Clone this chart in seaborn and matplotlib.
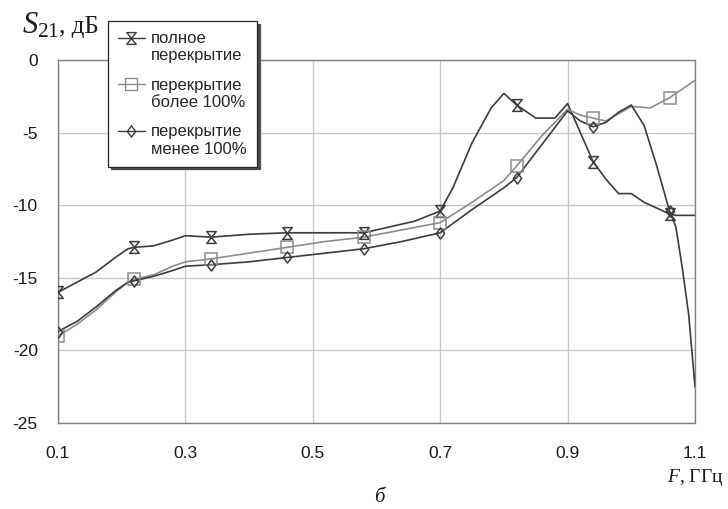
import numpy as np
import pandas as pd
import matplotlib
matplotlib.use("Agg")
import matplotlib.pyplot as plt
import seaborn as sns
from matplotlib.path import Path
from matplotlib.lines import Line2D

# ---- data ----
freq_full = [0.10, 0.13, 0.16, 0.19, 0.21, 0.22, 0.25, 0.28, 0.30, 0.34, 0.40, 0.46, 0.52,
             0.58, 0.62, 0.66, 0.70, 0.72, 0.75, 0.78, 0.80, 0.82, 0.85, 0.88, 0.90, 0.92,
             0.94, 0.96, 0.98, 1.00, 1.02, 1.06, 1.07, 1.10]
s21_full = [-16.0, -15.3, -14.6, -13.6, -13.0, -12.9, -12.8, -12.4, -12.1, -12.2, -12.0, -11.9, -11.9,
            -11.9, -11.5, -11.1, -10.4, -8.8, -5.7, -3.3, -2.3, -3.1, -4.0, -4.0, -3.0, -5.0,
            -7.0, -8.2, -9.2, -9.2, -9.8, -10.6, -10.7, -10.7]

freq_more = [0.10, 0.13, 0.16, 0.19, 0.21, 0.22, 0.25, 0.28, 0.30, 0.34, 0.40, 0.46, 0.52,
             0.58, 0.64, 0.70, 0.75, 0.80, 0.82, 0.86, 0.90, 0.92, 0.94, 0.96, 0.98, 1.00,
             1.03, 1.06, 1.10]
s21_more = [-19.0, -18.2, -17.2, -16.0, -15.3, -15.1, -14.8, -14.2, -13.9, -13.7, -13.3, -12.9, -12.5,
            -12.2, -11.7, -11.2, -9.8, -8.3, -7.3, -5.2, -3.4, -3.8, -4.0, -4.2, -3.7, -3.2,
            -3.3, -2.6, -1.4]

freq_less = [0.10, 0.13, 0.16, 0.19, 0.21, 0.22, 0.25, 0.28, 0.30, 0.34, 0.40, 0.46, 0.52,
             0.58, 0.64, 0.70, 0.75, 0.80, 0.82, 0.86, 0.90, 0.92, 0.94, 0.96, 0.98, 1.00,
             1.02, 1.04, 1.06, 1.07, 1.08, 1.09, 1.10]
s21_less = [-18.7, -18.0, -17.0, -15.9, -15.3, -15.2, -14.9, -14.5, -14.2, -14.1, -13.9, -13.6, -13.3,
            -13.0, -12.5, -11.9, -10.3, -8.8, -8.1, -5.8, -3.5, -4.2, -4.6, -4.3, -3.6, -3.1,
            -4.5, -7.3, -10.4, -11.5, -14.3, -17.5, -22.5]

marker_freqs = [0.10, 0.22, 0.34, 0.46, 0.58, 0.70, 0.82, 0.94, 1.06]
series_labels = ["полное\nперекрытие", "перекрытие\nболее 100%", "перекрытие\nменее 100%"]
xticks = [0.1, 0.3, 0.5, 0.7, 0.9, 1.1]
yticks = [0, -5, -10, -15, -20, -25]

# ---- style ----
sns.set_style("white")
plt.rcParams["font.family"] = ["Liberation Sans", "DejaVu Sans"]
plt.rcParams["mathtext.fontset"] = "custom"
plt.rcParams["mathtext.rm"] = "Liberation Serif"
plt.rcParams["mathtext.it"] = "Liberation Serif:italic"

hourglass = Path([(-0.8, 1), (0.8, 1), (-0.8, -1), (0.8, -1), (-0.8, 1)],
                 [Path.MOVETO, Path.LINETO, Path.LINETO, Path.LINETO, Path.CLOSEPOLY])
diamond = Path([(0, 1), (0.75, 0), (0, -1), (-0.75, 0), (0, 1)],
               [Path.MOVETO, Path.LINETO, Path.LINETO, Path.LINETO, Path.CLOSEPOLY])

dark = "#3c3c3c"
gray = "#8c8c8c"
styles = [
    dict(color=dark, marker=hourglass, ms=8.5),
    dict(color=gray, marker="s", ms=8.5),
    dict(color=dark, marker=diamond, ms=8.0),
]

fig = plt.figure(figsize=(7.28, 5.09), dpi=100)
ax = fig.add_axes([58 / 728, 1 - 423 / 509, (695 - 58) / 728, (423 - 60) / 509])

datasets = [(freq_full, s21_full), (freq_more, s21_more), (freq_less, s21_less)]
handles = []
for (f, s), st, lab in zip(datasets, styles, series_labels):
    df = pd.DataFrame({"F": f, "S21": s})
    sns.lineplot(data=df, x="F", y="S21", ax=ax, color=st["color"], lw=1.2,
                 sort=False, estimator=None, zorder=3)
    mask = np.isclose(df["F"].values[:, None], np.array(marker_freqs)[None, :]).any(axis=1)
    dm = df[mask]
    ax.plot(dm["F"], dm["S21"], linestyle="none", marker=st["marker"], ms=st["ms"],
            mfc="none", mec=st["color"], mew=1.1, zorder=4)
    handles.append(Line2D([], [], color=st["color"], lw=1.0, marker=st["marker"],
                          ms=st["ms"], mfc="none", mec=st["color"], mew=1.0))

ax.set_xlim(0.1, 1.1)
ax.set_ylim(-25, 0)
ax.set_xticks(xticks)
ax.set_yticks(yticks)
ax.set_xticklabels([f"{t:g}" for t in xticks])
ax.set_yticklabels([f"{t:g}" for t in yticks])
ax.set_xlabel("")
ax.set_ylabel("")
ax.grid(True, color="#c8c8c8", lw=1.0, zorder=0)
ax.set_axisbelow(True)
for sp in ax.spines.values():
    sp.set_color("#808080")
    sp.set_linewidth(1.0)
ax.tick_params(axis="both", length=0, labelsize=12.5, colors="#1a1a1a")
ax.tick_params(axis="y", pad=14.5)
ax.tick_params(axis="x", pad=16.5)

leg = ax.legend(handles, series_labels, loc="upper left",
                bbox_to_anchor=(108 / 728, 1 - 21 / 509), bbox_transform=fig.transFigure,
                borderaxespad=0, fancybox=False, shadow={"color": "0.3", "alpha": 1.0},
                edgecolor="#222222", framealpha=1, fontsize=12, handlelength=1.6,
                handletextpad=0.4, labelspacing=0.85, borderpad=0.6, frameon=True)
leg.get_frame().set_linewidth(0.9)
leg.set_zorder(10)
for h in leg.legend_handles:
    y = np.asarray(h.get_ydata(), dtype=float)
    h.set_ydata(y + 7.0)

# axis captions
s_text = fig.text(22 / 728, 1 - 33 / 509, r"$S_{21}$", fontsize=22,
                  ha="left", va="baseline", color="#1a1a1a")
fig.canvas.draw()
bb = s_text.get_window_extent()
fig.text(bb.x1 / 728, 1 - 33 / 509, ", дБ", family="Liberation Serif", fontsize=18,
         ha="left", va="baseline", color="#1a1a1a")
fig.text(723 / 728, 1 - 482 / 509, r"$F$, ГГц", family="Liberation Serif", fontsize=14,
         ha="right", va="baseline", color="#1a1a1a")
fig.text(379 / 728, 1 - 502 / 509, "б", family="Liberation Serif", style="italic",
         fontsize=15, ha="center", va="baseline", color="#1a1a1a")

fig.savefig("out.png", dpi=100)
